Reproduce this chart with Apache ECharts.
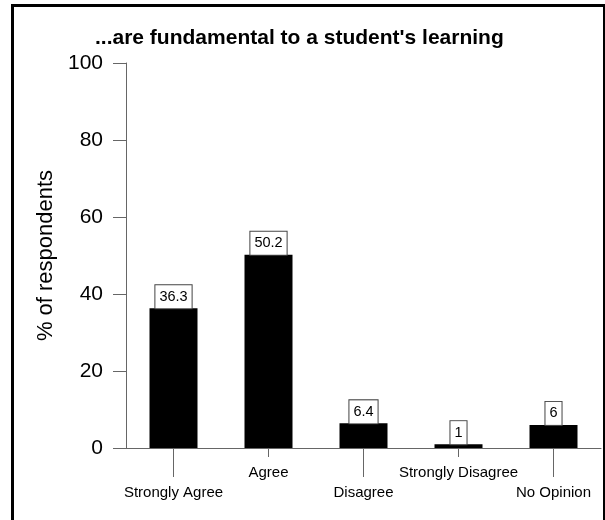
<!DOCTYPE html>
<html>
<head>
<meta charset="utf-8">
<script src="https://cdn.jsdelivr.net/npm/echarts@6/dist/echarts.min.js"></script>
<style>html,body{margin:0;padding:0;background:#fff}#c{width:605px;height:520px}</style>
</head>
<body>
<div id="c"></div>
<script>
var titleText = "...are fundamental to a student's learning";
var categories = ["Strongly Agree", "Agree", "Disagree", "Strongly Disagree", "No Opinion"];
var values = [36.3, 50.2, 6.4, 1, 6];
var yTicks = [0, 20, 40, 60, 80, 100];

var FONT = "'Liberation Sans', Arial, sans-serif";
var chart = echarts.init(document.getElementById('c'));
var axisColor = '#666';
chart.setOption({
  animation: false,
  backgroundColor: '#fff',
  title: {
    text: titleText,
    left: 90, top: 23,
    textStyle: { fontFamily: FONT, fontSize: 21, fontWeight: 'bold', color: '#000' }
  },
  grid: { left: 126, right: 4, top: 63, bottom: 72, containLabel: false },
  xAxis: [{
    type: 'category', data: categories, position: 'bottom',
    axisLine: { show: true, lineStyle: { color: axisColor, width: 1 } },
    axisTick: { show: true, alignWithLabel: true, length: 29, interval: function (i) { return i % 2 === 0; }, lineStyle: { color: axisColor } },
    axisLabel: { interval: function (i) { return i % 2 === 0; }, margin: 37, fontFamily: FONT, fontSize: 15, color: '#000' }
  }, {
    type: 'category', data: categories, position: 'bottom', gridIndex: 0,
    axisLine: { show: false },
    axisTick: { show: true, alignWithLabel: true, length: 9, interval: function (i) { return i % 2 === 1; }, lineStyle: { color: axisColor } },
    axisLabel: { interval: function (i) { return i % 2 === 1; }, margin: 17, fontFamily: FONT, fontSize: 15, color: '#000' }
  }],
  yAxis: {
    type: 'value', min: yTicks[0], max: yTicks[yTicks.length - 1], interval: yTicks[1] - yTicks[0],
    name: '% of respondents', nameLocation: 'middle', nameGap: 66,
    nameTextStyle: { fontFamily: FONT, fontSize: 22, color: '#000' },
    axisLine: { show: true, lineStyle: { color: axisColor, width: 1 } },
    axisTick: { show: true, length: 13, lineStyle: { color: axisColor } },
    axisLabel: { margin: 23, fontFamily: FONT, fontSize: 21, color: '#000' },
    splitLine: { show: false }
  },
  series: [{
    type: 'bar', data: values, barWidth: 48,
    itemStyle: { color: '#000' },
    label: {
      show: true, position: 'top', distance: 0,
      fontFamily: FONT, fontSize: 14.5, color: '#000',
      backgroundColor: '#fff', borderColor: '#444', borderWidth: 1,
      padding: [4, 4, 4, 4]
    }
  }],
  graphic: [{
    type: 'rect', silent: true, z: 100,
    shape: { x: 12.5, y: 5.5, width: 592, height: 530 },
    style: { fill: 'none', stroke: '#000', lineWidth: 3 }
  }]
});
</script>
</body>
</html>
